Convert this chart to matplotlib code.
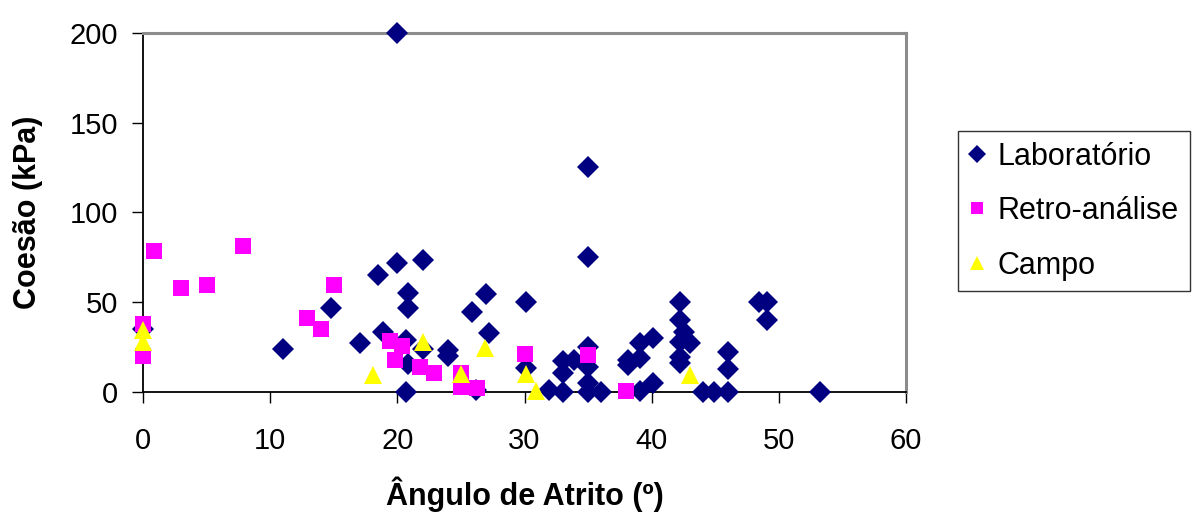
import numpy as np
import matplotlib
matplotlib.use("Agg")
import matplotlib.pyplot as plt

plt.rcParams['font.family'] = ['Liberation Sans', 'DejaVu Sans']

# Laboratório
lab_phi = [0, 11, 14.8, 17.1, 18.5, 18.9, 20, 20, 20.7, 20.8, 20.8, 20.8, 20.7,
           22, 22, 24, 24, 25.9, 26.2, 27, 27.2, 30.1, 30.1, 31.9, 33, 33, 33,
           33.9, 35, 35, 35, 35, 35, 35, 36, 38.1, 38.1, 39.1, 39.1, 39.1, 40.1,
           40.1, 42.2, 42.2, 42.5, 42.2, 43, 42.2, 42.2, 44, 44.9, 46, 46, 46,
           48.4, 49.1, 49.1, 53.2]
lab_c = [35, 24, 47, 27.5, 65, 33.5, 200, 72, 29, 55, 47, 15.5, 0,
         73.5, 24, 23.5, 20, 44.5, 1, 54.5, 33, 50.3, 13.5, 1, 0, 17, 10.4,
         17.8, 125, 75, 25, 14, 5, 0, 0, 17.8, 15, 18.7, 27.5, 0.5, 30,
         4.8, 50.3, 40, 33.6, 28, 27.5, 19.7, 16, 0, 0, 0, 22, 12.6,
         50.3, 50.3, 40, 0]

# Retro-análise
retro_phi = [0, 0, 0.9, 3, 5, 7.85, 12.9, 14, 15, 19.4, 20.4, 19.8, 21.8, 22.9,
             25, 25, 26.3, 30, 35, 38]
retro_c = [37.7, 20, 78.5, 58, 59.6, 81.3, 41.4, 35, 59.6, 28.6, 25.6, 18, 14,
           10.8, 10.4, 3, 2.5, 21, 20.6, 0.7]

# Campo
campo_phi = [0, 0, 18.1, 22, 25, 26.9, 30.1, 30.9, 43]
campo_c = [34.5, 28, 9.5, 28, 9.8, 24.3, 10, 0.5, 9.5]

fig = plt.figure(figsize=(11.95, 5.15), dpi=100)
ax = fig.add_axes([0.1197, 0.2388, 0.6385, 0.6977])

ax.plot(lab_phi, lab_c, 'D', color='#000080', ms=11.5, mew=0, clip_on=False,
        label='Laboratório', zorder=3)
ax.plot(retro_phi, retro_c, 's', color='#FF00FF', ms=11, mew=0, clip_on=False,
        label='Retro-análise', zorder=4)
ax.plot(campo_phi, campo_c, '^', color='#FFFF00', ms=13, mew=0, clip_on=False,
        label='Campo', zorder=5)

ax.set_xlim(0, 60)
ax.set_ylim(0, 200)
ax.set_xticks(np.arange(0, 61, 10))
ax.set_yticks(np.arange(0, 201, 50))
ax.tick_params(direction='out', length=8, width=1, labelsize=21)
ax.tick_params(axis='x', pad=17)
ax.tick_params(axis='y', pad=10)

for s in ['left', 'bottom']:
    ax.spines[s].set_color('black')
    ax.spines[s].set_linewidth(1.3)
for s in ['top', 'right']:
    ax.spines[s].set_color('#8c8c8c')
    ax.spines[s].set_linewidth(2.2)

ax.set_xlabel('Ângulo de Atrito (º)', fontsize=22, fontweight='bold', labelpad=16)
ax.set_ylabel('Coesão (kPa)', fontsize=22, fontweight='bold', labelpad=19)

leg = fig.legend(loc='upper left', bbox_to_anchor=(958 / 1195, 1 - 131 / 515),
                 fontsize=22, frameon=True, fancybox=False, markerscale=0.8,
                 handlelength=0.55, handletextpad=0.4, borderpad=0.35,
                 labelspacing=0.8, borderaxespad=0)
leg.get_frame().set_edgecolor('black')
leg.get_frame().set_linewidth(1.0)

fig.savefig('out.png', dpi=100)
